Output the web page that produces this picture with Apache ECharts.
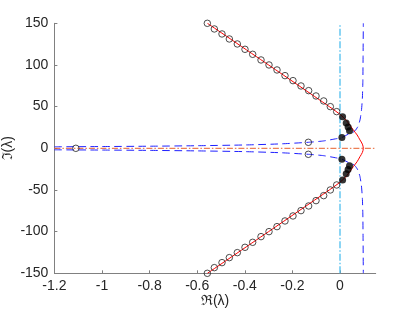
<!DOCTYPE html>
<html>
<head>
<meta charset="utf-8">
<script src="https://cdn.jsdelivr.net/npm/echarts@6/dist/echarts.min.js"></script>
<style>html,body{margin:0;padding:0;background:#fff}#c{width:415px;height:312px}</style>
</head>
<body>
<div id="c"></div>
<script>
// ---- data ----
const xTicks = [-1.2, -1, -0.8, -0.6, -0.4, -0.2, 0];
const yTicks = [-150, -100, -50, 0, 50, 100, 150];

// red spectrum curve (upper half, mirrored below)
const redRe = [-0.557, -0.30, -0.045, 0.003, 0.028, 0.056, 0.072, 0.084, 0.094, 0.098];
const redIm = [150, 100, 50, 40, 33, 22, 16, 10, 5, 0];

// open circles on the branches (upper half, mirrored)
const circRe = [-0.5574, -0.5280, -0.4958, -0.4650, -0.4314, -0.3992, -0.3669, -0.3319, -0.2983,
                -0.2647, -0.2311, -0.1975, -0.1639, -0.1317, -0.1008, -0.0686, -0.0406, -0.0140];
const circIm = [150.0, 143.2, 137.2, 131.2, 125.2, 118.8, 112.8, 106.0, 100.0,
                94.0, 87.2, 81.2, 74.8, 69.2, 62.8, 56.8, 50.0, 44.0];
// extra open circles
const extraCircRe = [-1.11, -0.133, -0.133];
const extraCircIm = [0, 7.2, -7.2];

// filled dots (upper half, mirrored)
const dotRe = [0.011, 0.026, 0.034, 0.040, 0.008];
const dotIm = [38, 30.5, 25.5, 21, 13];

// blue dashed locus (upper half, mirrored)
const blueRe = [-1.2, -1.0, -0.8, -0.6, -0.4, -0.25, -0.133, -0.07, -0.014, 0.008,
                0.035, 0.050, 0.063, 0.075, 0.084, 0.090, 0.094, 0.096, 0.097, 0.098];
const blueIm = [1.8, 2.1, 2.5, 3.1, 4.0, 5.3, 7.2, 8.8, 11.6, 13,
                17, 18.5, 21, 26, 34, 45, 60, 80, 110, 150];

// reference lines
const hLineRe = [-1.2, 0.15];
const hLineIm = [0, 0];
const vLineRe = [0, 0];
const vLineIm = [-150, 150];

// ---- build ----
const zip = (a, b) => a.map((v, i) => [v, b[i]]);
const mirror = (a, b) => a.map((v, i) => [v, -b[i]]);

const redData = zip(redRe, redIm).concat(mirror(redRe, redIm).reverse().slice(1));
const circData = zip(circRe, circIm).concat(mirror(circRe, circIm)).concat(zip(extraCircRe, extraCircIm));
const dotData = zip(dotRe, dotIm).concat(mirror(dotRe, dotIm));

const font = '"Liberation Sans", Arial, sans-serif';
const chart = echarts.init(document.getElementById('c'), null, {renderer: 'canvas'});
chart.setOption({
  animation: false,
  backgroundColor: '#fff',
  grid: {left: 54.4, right: 39.3, top: 23.3, bottom: 38.7, containLabel: false, outerBoundsMode: 'none'},
  xAxis: {
    type: 'value', min: -1.2, max: 0.15, interval: 0.2,
    name: 'ℜ(λ)', nameLocation: 'middle', nameGap: 21, nameMoveOverlap: false,
    nameTextStyle: {fontFamily: font, fontSize: 14, color: '#262626', verticalAlign: 'top'},
    axisLine: {show: true, onZero: false, lineStyle: {color: '#808080', width: 1}},
    axisTick: {show: true, inside: true, length: 3, customValues: xTicks, lineStyle: {color: '#808080'}},
    axisLabel: {customValues: xTicks, fontFamily: font, fontSize: 14, color: '#262626', margin: 6},
    splitLine: {show: false}
  },
  yAxis: {
    type: 'value', min: -150, max: 150, interval: 50,
    name: 'ℑ(λ)', nameLocation: 'middle', nameGap: 39, nameMoveOverlap: false,
    nameTextStyle: {fontFamily: font, fontSize: 14, color: '#262626'},
    axisLine: {show: true, onZero: false, lineStyle: {color: '#808080', width: 1}},
    axisTick: {show: true, inside: true, length: 3, customValues: yTicks, lineStyle: {color: '#808080'}},
    axisLabel: {customValues: yTicks, fontFamily: font, fontSize: 14, color: '#262626', margin: 6},
    splitLine: {show: false}
  },
  series: [
    {type: 'line', data: zip(hLineRe, hLineIm), symbol: 'none', z: 2,
     lineStyle: {color: '#E8602C', width: 1, type: [6, 2, 1.5, 2]}},
    {type: 'line', data: zip(vLineRe, vLineIm), symbol: 'none', z: 2,
     lineStyle: {color: '#4DBEEE', width: 1.3, type: [7, 2, 1.5, 2]}},
    {type: 'line', data: zip(blueRe, blueIm), symbol: 'none', smooth: 0.2, z: 3,
     lineStyle: {color: '#2020ff', width: 1, type: [7.5, 4.5]}},
    {type: 'line', data: mirror(blueRe, blueIm), symbol: 'none', smooth: 0.2, z: 3,
     lineStyle: {color: '#2020ff', width: 1, type: [7.5, 4.5]}},
    {type: 'line', data: redData, symbol: 'none', smooth: 0.3, z: 4,
     lineStyle: {color: '#ff0000', width: 1}},
    {type: 'scatter', data: circData, symbol: 'circle', symbolSize: 6.5, z: 5,
     itemStyle: {color: 'rgba(0,0,0,0)', borderColor: '#222', borderWidth: 1}},
    {type: 'scatter', data: dotData, symbol: 'circle', symbolSize: 7, z: 6,
     itemStyle: {color: '#000'}}
  ]
});
</script>
</body>
</html>
